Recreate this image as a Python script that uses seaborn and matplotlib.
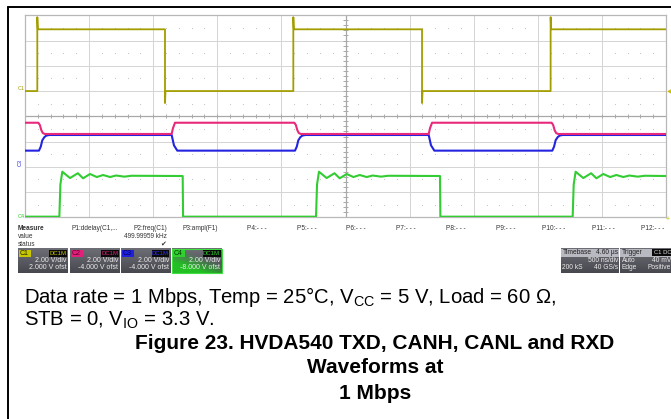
import numpy as np
import pandas as pd
import matplotlib
matplotlib.use("Agg")
import matplotlib.pyplot as plt
import seaborn as sns
from matplotlib.patches import Rectangle
from matplotlib.lines import Line2D

# ---------------- data ----------------
time_per_div_us = 0.5
volts_per_div = 2.0
channel_names = ["C1", "C2", "C3", "C4"]
channel_offset_v = [2.0, -4.0, -4.0, -8.0]
channel_dc = ["DC1M", "DC1M", "DC1M", "DC1M"]
channel_vdiv_label = ["2.00 V/div", "2.00 V/div", "2.00 V/div", "2.00 V/div"]
channel_ofst_label = ["2.000 V ofst", "-4.000 V ofst", "-4.000 V ofst", "-8.000 V ofst"]

# TXD (C1)
txd_edge_us = [0.096, 1.092, 2.093, 3.097, 4.100]
txd_edge_dir = ["rise", "fall", "rise", "fall", "rise"]
txd_low_v = 0.0
txd_high_v = 4.89
txd_overshoot_v = 5.85
txd_undershoot_v = -0.95

# CANH (C2) / CANL (C3): transition shapes after each TXD edge (us, V)
canh_to_rec_t = [0.008, 0.020, 0.031, 0.043, 0.059]
canh_to_rec_v = [3.49, 3.31, 2.91, 2.67, 2.60]
canl_to_rec_t = [0.013, 0.027, 0.039, 0.055, 0.070, 0.094]
canl_to_rec_v = [1.28, 1.60, 2.10, 2.35, 2.47, 2.52]
canh_to_dom_t = [0.052, 0.062, 0.078]
canh_to_dom_v = [2.60, 3.05, 3.49]
canl_to_dom_t = [0.052, 0.070, 0.096]
canl_to_dom_v = [2.52, 1.70, 1.28]

# RXD (C4)
rxd_edge_us = [0.268, 1.230, 2.270, 3.237, 4.272]
rxd_edge_dir = ["rise", "fall", "rise", "fall", "rise"]
rxd_low_v = 0.05
rxd_high_v = 3.27
rxd_rise_t = [0.0, 0.008, 0.023, 0.083, 0.144, 0.185, 0.239, 0.292, 0.341, 0.395, 0.442, 0.507, 0.562]
rxd_rise_v = [0.05, 2.60, 3.61, 3.11, 3.49, 3.09, 3.43, 3.19, 3.35, 3.19, 3.31, 3.22, 3.29]

measure_labels = ["P1:ddelay(C1,...", "P2:freq(C1)", "P3:ampl(F1)", "P4:- - -", "P5:- - -",
                  "P6:- - -", "P7:- - -", "P8:- - -", "P9:- - -", "P10:- - -", "P11:- - -", "P12:- - -"]
measure_value = "499.99959 kHz"

# ---------------- build traces ----------------
T_END = 5.0

def build_txd():
    t, v = [0.0], [txd_low_v]
    for te, d in zip(txd_edge_us, txd_edge_dir):
        if d == "rise":
            t += [te, te, te + 0.004]; v += [txd_low_v, txd_overshoot_v, txd_high_v]
        else:
            t += [te, te, te + 0.004]; v += [txd_high_v, txd_undershoot_v, txd_low_v]
    t.append(T_END); v.append(v[-1])
    return t, v

def build_can(rec_t, rec_v, dom_t, dom_v, start_v):
    t, v = [0.0], [start_v]
    for te, d in zip(txd_edge_us, txd_edge_dir):
        if d == "rise":
            t += [te + x for x in rec_t]; v += list(rec_v)
        else:
            t += [te + x for x in dom_t]; v += list(dom_v)
    t.append(T_END); v.append(v[-1])
    return t, v

def build_rxd():
    t, v = [0.0], [rxd_low_v]
    for te, d in zip(rxd_edge_us, rxd_edge_dir):
        if d == "rise":
            t += [te + x for x in rxd_rise_t]; v += list(rxd_rise_v)
        else:
            t += [te, te + 0.003]; v += [rxd_high_v, rxd_low_v]
    t.append(T_END); v.append(v[-1] if d == "fall" else rxd_high_v)
    return t, v

traces = []
for name, (t, v), off in [("C1", build_txd(), channel_offset_v[0]),
                          ("C3", build_can(canl_to_rec_t, canl_to_rec_v, canl_to_dom_t, canl_to_dom_v, canl_to_dom_v[-1]), channel_offset_v[2]),
                          ("C2", build_can(canh_to_rec_t, canh_to_rec_v, canh_to_dom_t, canh_to_dom_v, canh_to_dom_v[-1]), channel_offset_v[1]),
                          ("C4", build_rxd(), channel_offset_v[3])]:
    df = pd.DataFrame({"t": np.array(t) / time_per_div_us,
                       "y": (np.array(v) + off) / volts_per_div + 4.0})
    df["ch"] = name
    traces.append(df)

# ---------------- figure ----------------
sns.set_theme(style="white")
plt.rcParams["font.family"] = ["Liberation Sans", "DejaVu Sans"]
plt.rcParams["mathtext.fontset"] = "custom"
plt.rcParams["mathtext.rm"] = "Liberation Sans"

W, H = 671, 419
fig = plt.figure(figsize=(W / 100, H / 100), dpi=100)
fig.patch.set_facecolor("white")

def fx(x): return x / W
def fy(y): return 1 - y / H

ax_l, ax_r, ax_t, ax_b = 25, 666, 15.3, 217.3
ax = fig.add_axes([fx(ax_l), fy(ax_b), (ax_r - ax_l) / W, (ax_b - ax_t) / H])
ax.set_xlim(0, 10); ax.set_ylim(0, 8)
ax.set_xticks([]); ax.set_yticks([])
for s in ax.spines.values():
    s.set_color("#b8b8b8"); s.set_linewidth(0.9)

# graticule
for i in range(1, 10):
    ax.axvline(i, color="#a8a8a8" if i == 5 else "#d4d4d4", lw=0.9 if i == 5 else 0.7, zorder=0)
for j in range(1, 8):
    ax.axhline(j, color="#a8a8a8" if j == 4 else "#d4d4d4", lw=0.9 if j == 4 else 0.7, zorder=0)
mt = np.arange(0, 10.01, 0.2)
ax.vlines(mt, 4 - 0.08, 4 + 0.08, color="#a8a8a8", lw=0.7, zorder=0)
mty = np.arange(0, 8.01, 0.2)
ax.hlines(mty, 5 - 0.035, 5 + 0.035, color="#a8a8a8", lw=0.7, zorder=0)
dx = mt[(np.abs(mt - np.round(mt)) > 0.01)]
for j in range(8):
    ax.scatter(dx, np.full(dx.shape, j + 0.5), s=0.6, color="#bdbdbd", linewidths=0, zorder=0)

colors = {"C1": "#a39e00", "C2": "#e8287a", "C3": "#2323e0", "C4": "#33cc33"}
widths = {"C1": 1.3, "C2": 1.5, "C3": 1.5, "C4": 1.5}
for df in traces:
    ch = df["ch"].iloc[0]
    sns.lineplot(data=df, x="t", y="y", sort=False, estimator=None, color=colors[ch],
                 lw=widths[ch], ax=ax, legend=False, zorder=3)
ax.set_xlabel(""); ax.set_ylabel("")

# channel ground markers
fig.text(fx(18), fy(89), "C1", color=colors["C1"], fontsize=4, ha="left", va="center")
fig.text(fx(20), fy(163), "C3", color=colors["C3"], fontsize=4, ha="center", va="center", rotation=90)
fig.text(fx(18), fy(216), "C4", color=colors["C4"], fontsize=4, ha="left", va="center")
fig.text(fx(671), fy(92), "\u25c0", color="#c8c000", fontsize=4, ha="right", va="center")
fig.text(fx(668), fy(219), "+", color="#c8c000", fontsize=5, ha="center", va="center")

# outer frame
fig.add_artist(Line2D([fx(8), fx(8)], [0, fy(7)], color="black", lw=1.4))
fig.add_artist(Line2D([fx(8), 1], [fy(7), fy(7)], color="black", lw=1.4))

# measure table
mfs = 4.7
tc = "#333333"
fig.text(fx(18), fy(228), "Measure", fontsize=mfs, weight="bold", color=tc, va="center")
fig.text(fx(18), fy(236), "value", fontsize=mfs, color=tc, va="center")
fig.text(fx(18), fy(244), "status", fontsize=mfs, color=tc, va="center")
mx = [72, 134, 182.7, 247, 297, 346, 396, 446, 496, 541.7, 591.7, 640.7]
for x, lab in zip(mx, measure_labels):
    fig.text(fx(x), fy(228), lab, fontsize=mfs, color=tc, va="center")
fig.text(fx(167), fy(236), measure_value, fontsize=mfs, color=tc, va="center", ha="right")
fig.text(fx(163), fy(244), "\u2714", fontsize=5, color=tc, va="center", ha="center", family="DejaVu Sans")

def rect(x0, y0, x1, y1, fc, ec="none", lw=0.0, z=1):
    r = Rectangle((fx(x0), fy(y1)), (x1 - x0) / W, (y1 - y0) / H, transform=fig.transFigure,
                  facecolor=fc, edgecolor=ec, lw=lw, zorder=z)
    fig.add_artist(r)

def grad_box(x0, y0, x1, y1, green=False):
    a = fig.add_axes([fx(x0), fy(y1), (x1 - x0) / W, (y1 - y0) / H])
    a.set_axis_off()
    ny, nx = 30, 60
    yy, xx = np.mgrid[0:1:ny * 1j, 0:1:nx * 1j]
    top = np.array([0.43, 0.43, 0.46]); bot = np.array([0.28, 0.28, 0.31])
    img = top[None, None, :] * (1 - yy[..., None]) + bot[None, None, :] * yy[..., None]
    if green:
        w = np.clip(1.6 * yy - 1.1 * xx + 0.1, 0, 1)[..., None] * 0.9
        g = np.array([0.12, 0.80, 0.12])
        img = img * (1 - w) + g[None, None, :] * w
    a.imshow(img, aspect="auto", extent=[0, 1, 0, 1], origin="upper")
    a.set_xlim(0, 1); a.set_ylim(0, 1)
    return a

bfs = 5.0
box_x = [18, 70, 121, 172]
tag_bg = ["#c8c800", "#e0207a", "#2020d8", "#30d030"]
tag_fg = ["#202000", "#600030", "#000060", "#004000"]
dc_fg = ["#c8c800", "#e0207a", "#3030ff", "#30d030"]
for i, x0 in enumerate(box_x):
    x1 = x0 + 49.5
    grad_box(x0, 248.5, x1, 273, green=(i == 3))
    if i == 3:
        rect(x0, 248.5, x1, 273, "none", ec="#40e040", lw=0.8, z=5)
    rect(x0 + 1, 249.5, x0 + 13, 256.5, tag_bg[i], z=5)
    fig.text(fx(x0 + 2), fy(253), channel_names[i], fontsize=5, color=tag_fg[i], va="center", zorder=6)
    rect(x0 + 31, 249.5, x1 - 1, 256.5, "#0a0a0a", z=5)
    fig.text(fx(x1 - 1.5), fy(253), channel_dc[i], fontsize=4.3, color=dc_fg[i], va="center", ha="right", zorder=6)
    fig.text(fx(x1 - 1), fy(260.7), channel_vdiv_label[i], fontsize=bfs, color="#ececec", va="center", ha="right", zorder=6)
    fig.text(fx(x1 - 1), fy(267.6), channel_ofst_label[i], fontsize=bfs, color="#ececec", va="center", ha="right", zorder=6)

# timebase / trigger
tfs = 4.8
for (x0, x1) in [(561, 619), (620, 672)]:
    grad_box(x0, 248.5, x1, 273)
    rect(x0, 248.5, x1, 256.5, "#b9b9c2", z=5)
fig.text(fx(562.5), fy(252.5), "Timebase", fontsize=tfs, color="#202020", va="center", zorder=6)
fig.text(fx(618), fy(252.5), "4.60 \u00b5s", fontsize=tfs, color="#202020", va="center", ha="right", zorder=6)
fig.text(fx(618), fy(260.7), "500 ns/div", fontsize=tfs, color="#ececec", va="center", ha="right", zorder=6)
fig.text(fx(562.5), fy(267.6), "200 kS", fontsize=tfs, color="#ececec", va="center", zorder=6)
fig.text(fx(618), fy(267.6), "40 GS/s", fontsize=tfs, color="#ececec", va="center", ha="right", zorder=6)
fig.text(fx(621.5), fy(252.5), "Trigger", fontsize=tfs, color="#202020", va="center", zorder=6)
rect(652, 249.3, 672, 256, "#0a0a0a", z=6)
fig.text(fx(653.5), fy(252.7), "C1 DC", fontsize=4.2, color="#e0e0e0", va="center", zorder=7)
fig.text(fx(621.5), fy(260.7), "Auto", fontsize=tfs, color="#ececec", va="center", zorder=6)
fig.text(fx(671), fy(260.7), "40 mV", fontsize=tfs, color="#ececec", va="center", ha="right", zorder=6)
fig.text(fx(621.5), fy(267.6), "Edge", fontsize=tfs, color="#ececec", va="center", zorder=6)
fig.text(fx(671), fy(267.6), "Positive", fontsize=tfs, color="#ececec", va="center", ha="right", zorder=6)

# caption
cfs = 14.6
fig.text(fx(24), fy(297), "Data rate = 1 Mbps, Temp = 25\u00b0C, V$_\\mathregular{CC}$ = 5 V, Load = 60 \u03a9,",
         fontsize=cfs, color="black", va="center", ha="left")
fig.text(fx(24), fy(320), "STB = 0, V$_\\mathregular{IO}$ = 3.3 V.", fontsize=cfs, color="black", va="center", ha="left")
for yy, s in [(343.5, "Figure 23. HVDA540 TXD, CANH, CANL and RXD"), (367.5, "Waveforms at"), (393.5, "1 Mbps")]:
    fig.text(fx(375), fy(yy), s, fontsize=15, weight="bold", color="black", va="center", ha="center")

fig.savefig("out.png", dpi=100, facecolor="white")
